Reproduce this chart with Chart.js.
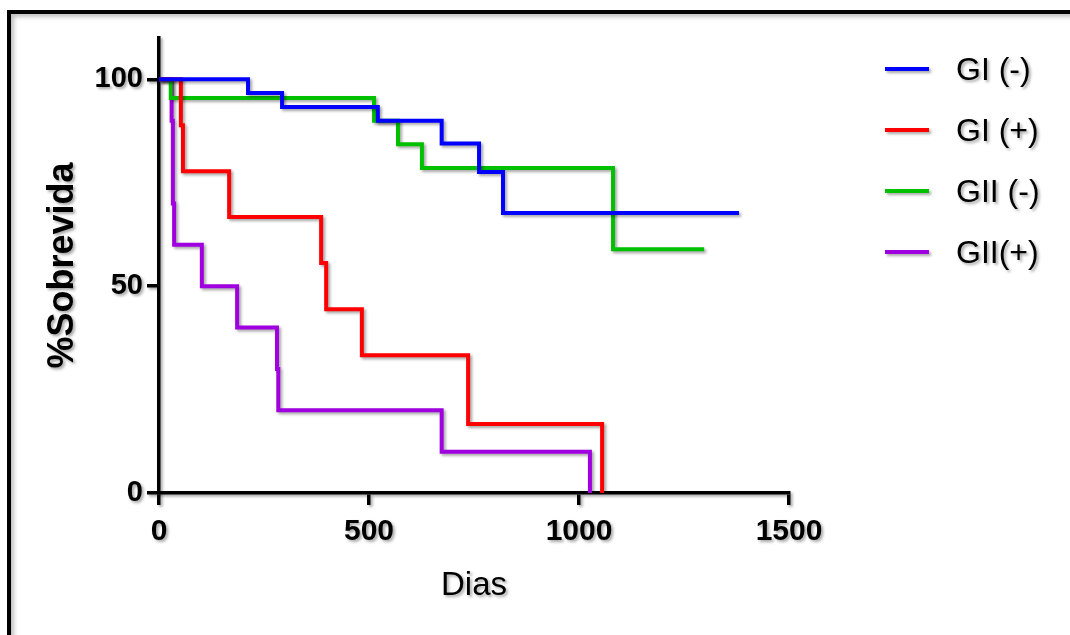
<!DOCTYPE html>
<html>
<head>
<meta charset="utf-8">
<script src="https://cdn.jsdelivr.net/npm/chart.js@4.4.1/dist/chart.umd.min.js"></script>
<style>
  html, body { margin: 0; padding: 0; background: #fff; }
  #wrap { position: relative; width: 1070px; height: 635px; overflow: hidden; }
  #frame {
    position: absolute; left: 7px; top: 10px; right: -10px; bottom: -10px;
    border-left: 4px solid #000; border-top: 4px solid #000;
    box-shadow: inset 3px 3px 4px rgba(0,0,0,0.25);
  }
  canvas { position: absolute; left: 0; top: 0; }
</style>
</head>
<body>
<div id="wrap">
  <div id="frame"></div>
  <canvas id="c" width="1070" height="635"></canvas>
</div>
<script>
// survival curves (days, % survival)
const giNegDays  = [0, 212, 293, 521, 673, 762, 819, 1381];
const giNegSurv  = [100, 96.7, 93.3, 90.0, 84.5, 77.6, 67.7, 67.7];

const giPosDays  = [0, 52, 57, 167, 386, 398, 483, 736, 1055];
const giPosSurv  = [100, 88.9, 77.8, 66.7, 55.6, 44.4, 33.3, 16.7, 0];

const giiNegDays = [0, 28, 512, 569, 626, 1081, 1298];
const giiNegSurv = [100, 95.5, 90.0, 84.3, 78.6, 58.9, 58.9];

const giiPosDays = [0, 30, 33, 36, 102, 186, 281, 284, 673, 1026];
const giiPosSurv = [100, 90, 70, 60, 50, 40, 30, 20, 10, 0];

const labels = ['GI (-)', 'GI (+)', 'GII (-)', 'GII(+)'];
const colors = ['#0000FF', '#FF0000', '#00C000', '#A000E0'];
const xTicks = [0, 500, 1000, 1500];
const yTicks = [0, 50, 100];

const pts = (xs, ys) => xs.map((x, i) => ({ x, y: ys[i] }));
const series = [
  pts(giNegDays, giNegSurv),
  pts(giPosDays, giPosSurv),
  pts(giiNegDays, giiNegSurv),
  pts(giiPosDays, giiPosSurv),
];

const FONT = "'Liberation Sans', Arial, Helvetica, sans-serif";

const shadow = {
  id: 'shadow',
  beforeDraw(chart) {
    const ctx = chart.ctx;
    ctx.save();
    ctx.shadowColor = 'rgba(0,0,0,0.35)';
    ctx.shadowBlur = 3;
    ctx.shadowOffsetX = 2;
    ctx.shadowOffsetY = 2;
  },
  afterDraw(chart) {
    chart.ctx.restore();
  }
};

const sideLegend = {
  id: 'sideLegend',
  afterDraw(chart) {
    const ctx = chart.ctx;
    ctx.save();
    ctx.shadowColor = 'rgba(0,0,0,0.35)';
    ctx.shadowBlur = 3;
    ctx.shadowOffsetX = 2;
    ctx.shadowOffsetY = 2;
    chart.data.datasets.forEach((ds, i) => {
      const y = 69 + i * 61;
      ctx.strokeStyle = ds.borderColor;
      ctx.lineWidth = 4;
      ctx.beginPath();
      ctx.moveTo(885, y);
      ctx.lineTo(929, y);
      ctx.stroke();
      ctx.fillStyle = '#000';
      ctx.font = '32px ' + FONT;
      ctx.textBaseline = 'middle';
      ctx.textAlign = 'left';
      ctx.fillText(ds.label, 956, y + 2);
    });
    ctx.restore();
  }
};

new Chart(document.getElementById('c'), {
  type: 'line',
  data: {
    datasets: series.map((data, i) => ({
      label: labels[i],
      data,
      borderColor: colors[i],
      borderWidth: 4,
      stepped: true,
      pointRadius: 0,
      fill: false,
    })),
  },
  options: {
    responsive: false,
    animation: false,
    layout: { padding: { left: 0, top: 38, right: 281, bottom: 0 } },
    plugins: { legend: { display: false }, tooltip: { enabled: false } },
    scales: {
      x: {
        type: 'linear',
        min: 0, max: 1500,
        afterBuildTicks: (s) => { s.ticks = xTicks.map(v => ({ value: v })); },
        afterFit: (s) => { s.height = 142; },
        grid: { drawOnChartArea: false, color: '#000', lineWidth: 3.5, tickLength: 12 },
        border: { color: '#000', width: 3.5 },
        ticks: {
          color: '#000', padding: 9, maxRotation: 0,
          callback: (v) => String(v),
          font: { family: FONT, size: 30, weight: 'bold' }
        },
        title: {
          display: true, text: 'Dias', color: '#000',
          font: { family: FONT, size: 33 }, padding: { top: 0, bottom: 29 }
        }
      },
      y: {
        min: 0, max: 110,
        afterBuildTicks: (s) => { s.ticks = yTicks.map(v => ({ value: v })); },
        afterFit: (s) => { s.width = 159; },
        grid: { drawOnChartArea: false, color: '#000', lineWidth: 3.5, tickLength: 12 },
        border: { color: '#000', width: 3.5 },
        ticks: {
          color: '#000', padding: 4,
          callback: (v) => String(v),
          font: { family: FONT, size: 29, weight: 'bold' }
        },
        title: {
          display: true, text: '%Sobrevida', color: '#000',
          font: { family: FONT, size: 36, weight: 'bold' }, padding: { top: 41, bottom: 0 }
        }
      }
    }
  },
  plugins: [shadow, sideLegend]
});
</script>
</body>
</html>
